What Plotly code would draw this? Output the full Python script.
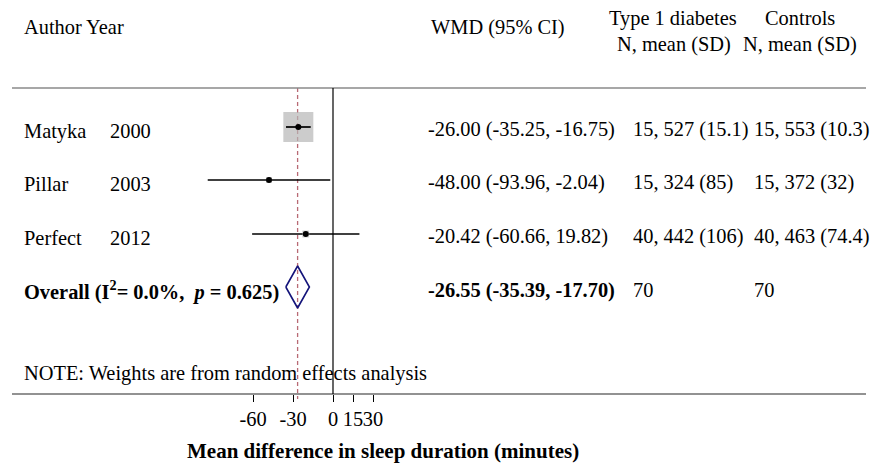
import plotly.graph_objects as go
import numpy as np

authors = ["Matyka", "Pillar", "Perfect"]
years = ["2000", "2003", "2012"]
wmd = [-26.00, -48.00, -20.42]
ci_lo = [-35.25, -93.96, -60.66]
ci_hi = [-16.75, -2.04, 19.82]
weights = [91.4, 3.7, 4.8]
t1d_n = [15, 15, 40]
t1d_mean = [527, 324, 442]
t1d_sd = ["15.1", "85", "106"]
ctl_n = [15, 15, 40]
ctl_mean = [553, 372, 463]
ctl_sd = ["10.3", "32", "74.4"]
overall_wmd = -26.55
overall_lo = -35.39
overall_hi = -17.70
overall_i2 = "0.0%"
overall_p = "0.625"
overall_n1 = 70
overall_n2 = 70
xticks = [-60, -30, 0, 15, 30]

W, H = 881, 465
FONT = "Liberation Serif"
FS = 20.4
# layout positions (pixels)
X0PX = 333.0
PXU = 40.0 / 30.0
xmin = -X0PX / PXU
xmax = (W - X0PX) / PXU
row_y = [127, 180, 234]
over_y = 287
top_line = 88
bot_line = 394

def px(xp):
    return xp / W

fig = go.Figure()

# CI lines
for i in range(3):
    fig.add_trace(go.Scatter(x=[ci_lo[i], ci_hi[i]], y=[row_y[i], row_y[i]], mode="lines",
                             line=dict(color="black", width=1.6), hoverinfo="skip", showlegend=False))
# weight squares
sizes = [30 * np.sqrt(w / max(weights)) for w in weights]
fig.add_trace(go.Scatter(x=wmd, y=row_y, mode="markers",
                         marker=dict(symbol="square", size=sizes, color="#b6b6b6", line=dict(width=0)),
                         hoverinfo="skip", showlegend=False))
# redraw Matyka line above square
fig.add_trace(go.Scatter(x=[ci_lo[0], ci_hi[0]], y=[row_y[0], row_y[0]], mode="lines",
                         line=dict(color="black", width=1.6), hoverinfo="skip", showlegend=False))
fig.add_trace(go.Scatter(x=wmd, y=row_y, mode="markers",
                         marker=dict(symbol="circle", size=6, color="black"),
                         hoverinfo="skip", showlegend=False))
# diamond
fig.add_trace(go.Scatter(x=[overall_lo, overall_wmd, overall_hi, overall_wmd, overall_lo],
                         y=[over_y, over_y - 21, over_y, over_y + 21, over_y], mode="lines",
                         line=dict(color="#14147a", width=1.6), hoverinfo="skip", showlegend=False))

# lines
fig.add_shape(type="line", xref="paper", yref="y", x0=px(12), x1=px(866), y0=top_line, y1=top_line,
              line=dict(color="#8a8a8a", width=1.5))
fig.add_shape(type="line", xref="paper", yref="y", x0=px(12), x1=px(866), y0=bot_line, y1=bot_line,
              line=dict(color="#6e6e6e", width=1.5))
fig.add_shape(type="line", xref="x", yref="y", x0=0, x1=0, y0=top_line, y1=bot_line,
              line=dict(color="black", width=1.2))
fig.add_shape(type="line", xref="x", yref="y", x0=overall_wmd, x1=overall_wmd, y0=top_line, y1=bot_line + 5,
              line=dict(color="#b86a74", width=1.3, dash="4px,3px"), layer="below")

def txt(xp, y, s, anchor="left", bold=False, size=FS):
    if bold:
        s = "<b>" + s + "</b>"
    fig.add_annotation(x=px(xp), xref="paper", y=y, yref="y", text=s, showarrow=False,
                       xanchor=anchor, yanchor="middle", font=dict(family=FONT, size=size, color="black"))

# headers
txt(22, 27, "Author Year")
txt(429, 27, "WMD (95% CI)")
txt(673, 18, "Type 1 diabetes", anchor="center")
txt(674, 44, "N, mean (SD)", anchor="center")
txt(800, 18, "Controls", anchor="center")
txt(800, 44, "N, mean (SD)", anchor="center")

for i in range(3):
    y = row_y[i] + 4
    txt(22, y, authors[i])
    txt(108, y, years[i])
    txt(426, y - 2, f"{wmd[i]:.2f} ({ci_lo[i]:.2f}, {ci_hi[i]:.2f})")
    txt(631, y - 2, f"{t1d_n[i]}, {t1d_mean[i]} ({t1d_sd[i]})")
    txt(752, y - 2, f"{ctl_n[i]}, {ctl_mean[i]} ({ctl_sd[i]})")

txt(22, over_y + 3, f"<b>Overall (I<sup>2</sup>= {overall_i2},  <i>p</i> = {overall_p})</b>")
txt(426, over_y + 3, f"{overall_wmd:.2f} ({overall_lo:.2f}, {overall_hi:.2f})", bold=True)
txt(631, over_y + 3, str(overall_n1))
txt(752, over_y + 3, str(overall_n2))

txt(22, 373, "NOTE: Weights are from random effects analysis")
txt(383, 451, "Mean difference in sleep duration (minutes)", anchor="center", bold=True, size=21)

fig.update_layout(
    width=W, height=H, margin=dict(l=0, r=0, t=0, b=0),
    paper_bgcolor="white", plot_bgcolor="white",
    xaxis=dict(range=[xmin, xmax], domain=[0, 1], anchor="free", position=1 - bot_line / H,
               showgrid=False, zeroline=False, showline=False,
               tickvals=xticks, ticktext=[str(t) for t in xticks], tickangle=0,
               ticks="outside", ticklen=7, tickwidth=1.2, tickcolor="black",
               tickfont=dict(family=FONT, size=FS, color="black")),
    yaxis=dict(range=[H, 0], domain=[0, 1], visible=False, showgrid=False, zeroline=False),
)

fig.write_html("out.html")
